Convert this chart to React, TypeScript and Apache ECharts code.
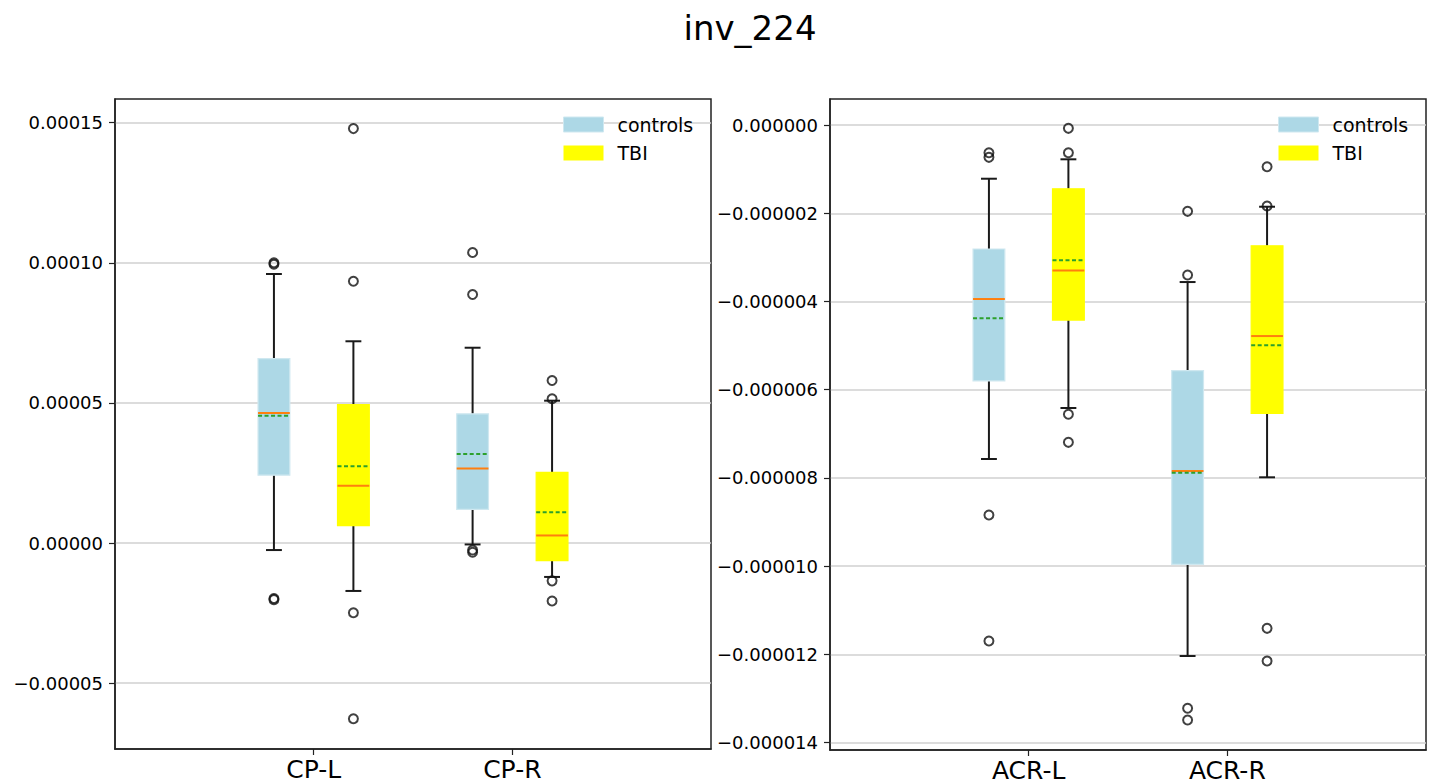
import React, { useEffect, useRef } from 'react';
import * as echarts from 'echarts';

const titleText = 'inv_224';
const leftCategories = ['CP-L', 'CP-R'];
const rightCategories = ['ACR-L', 'ACR-R'];
const groupNames = ['controls', 'TBI'];

// per category: [lower whisker, Q1, median, Q3, upper whisker, mean]
const cpControls = [
  [-2.5e-6, 2.42e-5, 4.64e-5, 6.58e-5, 9.6e-5, 4.54e-5],
  [-0.5e-6, 1.2e-5, 2.66e-5, 4.61e-5, 6.97e-5, 3.18e-5],
];
const cpTBI = [
  [-1.71e-5, 6.2e-6, 2.04e-5, 4.94e-5, 7.2e-5, 2.74e-5],
  [-1.21e-5, -6.3e-6, 2.7e-6, 2.52e-5, 5.08e-5, 1.1e-5],
];
const cpControlsOutliers = [
  [9.95e-5, 1.0e-4, -1.98e-5, -2.02e-5],
  [1.037e-4, 8.87e-5, -2.5e-6, -3.3e-6],
];
const cpTBIOutliers = [
  [1.479e-4, 9.34e-5, -2.49e-5, -6.27e-5],
  [5.8e-5, 5.15e-5, -1.35e-5, -2.07e-5],
];

const acrControls = [
  [-7.57e-6, -5.8e-6, -3.944e-6, -2.81e-6, -1.217e-6, -4.38e-6],
  [-1.2036e-5, -9.957e-6, -7.843e-6, -5.569e-6, -3.559e-6, -7.88e-6],
];
const acrTBI = [
  [-6.414e-6, -4.42e-6, -3.3e-6, -1.444e-6, -7.77e-7, -3.067e-6],
  [-7.985e-6, -6.535e-6, -4.783e-6, -2.736e-6, -1.852e-6, -4.993e-6],
];
const acrControlsOutliers = [
  [-6.28e-7, -7.32e-7, -8.84e-6, -1.1696e-5],
  [-1.956e-6, -3.4e-6, -1.3221e-5, -1.3486e-5],
];
const acrTBIOutliers = [
  [-7.5e-8, -6.28e-7, -6.557e-6, -7.192e-6],
  [-9.45e-7, -1.836e-6, -1.1408e-5, -1.2149e-5],
];

const leftTicks = [-0.00005, 0, 0.00005, 0.0001, 0.00015];
const rightTicks = [-0.000014, -0.000012, -0.00001, -0.000008, -0.000006, -0.000004, -0.000002, 0];
const leftRange = [-7.35e-5, 1.5846e-4];
const rightRange = [-1.4166e-5, 5.9e-7];

const FONT = 'DejaVu Sans';
const BOX_HALF = 0.08;
const CAP_HALF = 0.04;
const OFFSET = 0.2;
const CONTROL_FILL = '#add8e6';
const CONTROL_EDGE = '#cfe8f0';
const TBI_FILL = '#ffff00';

function makeBoxRenderer(fill: string, edge: string) {
  return (_params: any, api: any) => {
    const x = api.value(0);
    const lo = api.value(1);
    const q1 = api.value(2);
    const med = api.value(3);
    const q3 = api.value(4);
    const hi = api.value(5);
    const mean = api.value(6);
    const pt = (xx: number, yy: number) => api.coord([xx, yy]);
    const [xl, yq3] = pt(x - BOX_HALF, q3);
    const [xr, yq1] = pt(x + BOX_HALF, q1);
    const [xc, yhi] = pt(x, hi);
    const ylo = pt(x, lo)[1];
    const cl = pt(x - CAP_HALF, hi)[0];
    const cr = pt(x + CAP_HALF, hi)[0];
    const ymed = pt(x, med)[1];
    const ymean = pt(x, mean)[1];
    const whisker = { stroke: '#1a1a1a', lineWidth: 2 };
    return {
      type: 'group',
      children: [
        { type: 'line', shape: { x1: xc, y1: yq3, x2: xc, y2: yhi }, style: whisker },
        { type: 'line', shape: { x1: xc, y1: yq1, x2: xc, y2: ylo }, style: whisker },
        { type: 'line', shape: { x1: cl, y1: yhi, x2: cr, y2: yhi }, style: whisker },
        { type: 'line', shape: { x1: cl, y1: ylo, x2: cr, y2: ylo }, style: whisker },
        {
          type: 'rect',
          shape: { x: xl, y: yq3, width: xr - xl, height: yq1 - yq3 },
          style: { fill, stroke: edge, lineWidth: 1.2 },
        },
        { type: 'line', shape: { x1: xl, y1: ymed, x2: xr, y2: ymed }, style: { stroke: '#ff7f0e', lineWidth: 2 } },
        {
          type: 'line',
          shape: { x1: xl, y1: ymean, x2: xr, y2: ymean },
          style: { stroke: '#2ca02c', lineWidth: 2, lineDash: [4, 2.5] },
        },
      ],
    };
  };
}

const boxRows = (stats: number[][], offset: number) => stats.map((s, i) => [i + 1 + offset, ...s]);
const outlierPoints = (outs: number[][], offset: number) =>
  outs.flatMap((vals, i) => vals.map((v) => [i + 1 + offset, v]));

function panelSeries(idx: number, controls: number[][], tbi: number[][], cOut: number[][], tOut: number[][]) {
  const scatterStyle = {
    type: 'scatter',
    xAxisIndex: idx,
    yAxisIndex: idx,
    symbol: 'circle',
    symbolSize: 9,
    silent: true,
    z: 4,
    itemStyle: { color: 'rgba(0,0,0,0)', borderColor: '#111', borderWidth: 2 },
  };
  return [
    {
      type: 'custom',
      name: groupNames[0],
      xAxisIndex: idx,
      yAxisIndex: idx,
      renderItem: makeBoxRenderer(CONTROL_FILL, CONTROL_EDGE),
      itemStyle: { color: CONTROL_FILL },
      data: boxRows(controls, -OFFSET),
      z: 3,
      silent: true,
    },
    {
      type: 'custom',
      name: groupNames[1],
      xAxisIndex: idx,
      yAxisIndex: idx,
      renderItem: makeBoxRenderer(TBI_FILL, TBI_FILL),
      itemStyle: { color: TBI_FILL },
      data: boxRows(tbi, OFFSET),
      z: 3,
      silent: true,
    },
    { ...scatterStyle, data: outlierPoints(cOut, -OFFSET) },
    { ...scatterStyle, data: outlierPoints(tOut, OFFSET) },
  ];
}

const fmt = (digits: number) => (v: number) => {
  const s = Math.abs(v) < 1e-12 ? (0).toFixed(digits) : v.toFixed(digits);
  return s.replace('-', '\u2212');
};

function xAxisFor(idx: number, cats: string[]) {
  return {
    gridIndex: idx,
    type: 'value',
    position: 'bottom',
    min: 0,
    max: 3,
    axisLine: { show: true, onZero: false, lineStyle: { color: '#222', width: 1.5 } },
    axisTick: { show: true, customValues: [1, 2], length: 6, lineStyle: { color: '#222', width: 1.2 } },
    axisLabel: {
      customValues: [1, 2],
      formatter: (v: number) => cats[Math.round(v) - 1] ?? '',
      fontSize: 25,
      color: '#000',
      fontFamily: FONT,
      margin: 8,
    },
    splitLine: { show: false },
  };
}

function yAxisFor(idx: number, ticks: number[], range: number[], digits: number) {
  return {
    gridIndex: idx,
    type: 'value',
    position: 'left',
    min: range[0],
    max: range[1],
    axisLine: { show: true, onZero: false, lineStyle: { color: '#222', width: 1.5 } },
    axisTick: { show: true, customValues: ticks, length: 6, lineStyle: { color: '#222', width: 1.2 } },
    axisLabel: {
      customValues: ticks,
      formatter: fmt(digits),
      fontSize: 18,
      color: '#000',
      fontFamily: FONT,
      margin: 12,
    },
    splitLine: { show: true, lineStyle: { color: '#d0d0d0', width: 1.5 } },
  };
}

const legendData = [
  { name: groupNames[0], icon: 'rect', itemStyle: { color: CONTROL_FILL, borderColor: CONTROL_EDGE, borderWidth: 1 } },
  { name: groupNames[1], icon: 'rect', itemStyle: { color: TBI_FILL } },
];

function legendAt(left: number) {
  return {
    left,
    top: 115,
    orient: 'vertical',
    itemWidth: 40,
    itemHeight: 15,
    itemGap: 9.5,
    padding: 0,
    selectedMode: false,
    textStyle: { fontSize: 19, fontFamily: FONT, color: '#000', padding: [0, 0, 0, 9] },
    data: legendData,
  };
}

export default function App() {
  const ref = useRef<HTMLDivElement>(null);
  useEffect(() => {
    document.body.style.margin = '0';
    if (!ref.current) return;
    const chart = echarts.init(ref.current, null, { renderer: 'svg' });
    chart.setOption({
      animation: false,
      backgroundColor: '#ffffff',
      textStyle: { fontFamily: FONT },
      graphic: [
        {
          type: 'text',
          x: 750,
          y: 28,
          style: {
            text: titleText,
            fontSize: 34,
            fontFamily: FONT,
            fill: '#000',
            textAlign: 'center',
            textVerticalAlign: 'middle',
          },
        },
      ],
      grid: [
        { left: 115, top: 99, width: 596, height: 650, show: true, borderColor: '#222', borderWidth: 1.5 },
        { left: 830, top: 99, width: 596, height: 651, show: true, borderColor: '#222', borderWidth: 1.5 },
      ],
      legend: [legendAt(563), legendAt(1278)],
      xAxis: [xAxisFor(0, leftCategories), xAxisFor(1, rightCategories)],
      yAxis: [yAxisFor(0, leftTicks, leftRange, 5), yAxisFor(1, rightTicks, rightRange, 6)],
      series: [
        ...panelSeries(0, cpControls, cpTBI, cpControlsOutliers, cpTBIOutliers),
        ...panelSeries(1, acrControls, acrTBI, acrControlsOutliers, acrTBIOutliers),
      ],
    });
    return () => chart.dispose();
  }, []);
  return <div ref={ref} style={{ width: 1434, height: 784 }} />;
}
